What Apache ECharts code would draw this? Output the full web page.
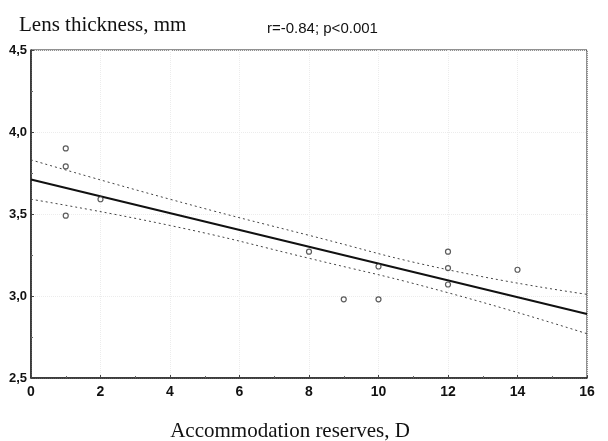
<!DOCTYPE html>
<html>
<head>
<meta charset="utf-8">
<script src="https://cdn.jsdelivr.net/npm/echarts@6/dist/echarts.min.js"></script>
<style>
  html, body { margin: 0; padding: 0; background: #fff; }
  #chart { width: 608px; height: 441px; }
</style>
</head>
<body>
<div id="chart"></div>
<script>
// observed points: accommodation reserves (D) vs lens thickness (mm)
const reserves = [1, 1, 1, 2, 8, 9, 10, 10, 12, 12, 12, 14];
const thickness = [3.9, 3.79, 3.49, 3.59, 3.27, 2.98, 3.18, 2.98, 3.27, 3.17, 3.07, 3.16];

// regression line and confidence band
const fitX = [0, 16];
const fitY = [3.71, 2.89];
const bandX = [0, 4, 8, 12, 16];
const bandUpper = [3.83, 3.59, 3.37, 3.16, 3.01];
const bandLower = [3.59, 3.43, 3.23, 3.02, 2.77];

const xTicks = [0, 2, 4, 6, 8, 10, 12, 14, 16];
const yTicks = [2.5, 3.0, 3.5, 4.0, 4.5];

const chart = echarts.init(document.getElementById("chart"));

const pairs = (xs, ys) => xs.map((x, i) => [x, ys[i]]);

const option = {
  animation: false,
  grid: {
    left: 31,
    right: 21,
    top: 50,
    bottom: 63,
    show: true,
    borderColor: "#222",
    borderWidth: 1,
  },
  title: [
    {
      text: "Lens thickness, mm",
      left: 14,
      top: 10,
      textStyle: { fontFamily: "Liberation Serif", fontSize: 21, fontWeight: "normal", color: "#111" },
    },
    {
      text: "r=-0.84; p<0.001",
      left: 262,
      top: 16,
      textStyle: { fontFamily: "Liberation Sans", fontSize: 15, fontWeight: "normal", color: "#111" },
    },
    {
      text: "Accommodation reserves, D",
      left: 285,
      textAlign: "center",
      top: 416,
      textStyle: { fontFamily: "Liberation Serif", fontSize: 21, fontWeight: "normal", color: "#111" },
    },
  ],
  xAxis: {
    type: "value",
    min: 0,
    max: 16,
    interval: 2,
    axisLine: { show: true, lineStyle: { color: "#222", width: 1.5 } },
    axisTick: { show: true, inside: true, length: 3, lineStyle: { color: "#444" } },
    minorTick: { show: true, splitNumber: 2, length: 2, lineStyle: { color: "#666" } },
    splitLine: { show: true, lineStyle: { color: "#ececec", type: "dotted" } },
    axisLabel: {
      color: "#111",
      fontFamily: "Liberation Sans",
      fontSize: 14,
      fontWeight: "bold",
      margin: 7,
      formatter: (v) => (xTicks.includes(v) ? String(v) : ""),
    },
  },
  yAxis: {
    type: "value",
    min: 2.5,
    max: 4.5,
    interval: 0.5,
    axisLine: { show: true, lineStyle: { color: "#222", width: 1.5 } },
    axisTick: { show: true, inside: true, length: 3, lineStyle: { color: "#444" } },
    minorTick: { show: true, splitNumber: 2, length: 2, lineStyle: { color: "#666" } },
    splitLine: { show: true, lineStyle: { color: "#ececec", type: "dotted" } },
    axisLabel: {
      color: "#111",
      fontFamily: "Liberation Sans",
      fontSize: 13,
      fontWeight: "bold",
      margin: 4,
      formatter: (v) => (yTicks.includes(v) ? v.toFixed(1).replace(".", ",") : ""),
    },
  },
  series: [
    {
      name: "upper",
      type: "line",
      data: pairs(bandX, bandUpper),
      smooth: true,
      symbol: "none",
      lineStyle: { color: "#444", width: 1, type: [2, 3] },
    },
    {
      name: "lower",
      type: "line",
      data: pairs(bandX, bandLower),
      smooth: true,
      symbol: "none",
      lineStyle: { color: "#444", width: 1, type: [2, 3] },
    },
    {
      name: "fit",
      type: "line",
      data: pairs(fitX, fitY),
      symbol: "none",
      lineStyle: { color: "#111", width: 2 },
    },
    {
      name: "points",
      type: "scatter",
      data: pairs(reserves, thickness),
      symbol: "circle",
      symbolSize: 5,
      itemStyle: { color: "#fff", borderColor: "#333", borderWidth: 1.2 },
      z: 5,
    },
  ],
};

chart.setOption(option);
</script>
</body>
</html>
